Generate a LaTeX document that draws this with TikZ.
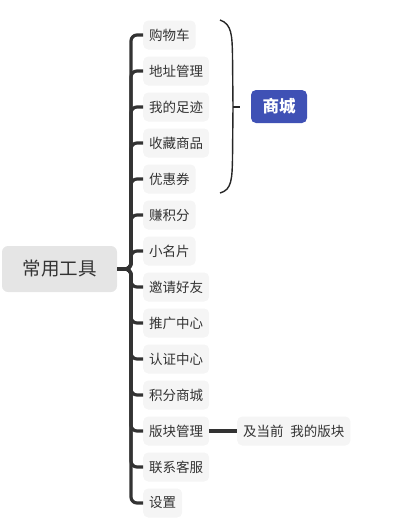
\documentclass[tikz,border=0pt]{standalone}
\usepackage{fontspec}
\setmainfont{Noto Sans CJK SC}
\usetikzlibrary{positioning}
\definecolor{txt}{HTML}{333333}
\definecolor{rootfill}{HTML}{E5E5E5}
\definecolor{leaffill}{HTML}{F5F5F5}
\definecolor{mallblue}{HTML}{3F51B5}
\tikzset{
	rootbox/.style={fill=rootfill,rounded corners=6pt,minimum width=115pt,minimum height=46pt,text=txt,font=\fontsize{18.5}{20}\selectfont},
	leaf/.style={fill=leaffill,rounded corners=5pt,inner xsep=6pt,inner ysep=0pt,minimum height=29pt,text=txt,font=\fontsize{13.5}{15}\selectfont},
	tagbox/.style={fill=mallblue,rounded corners=5pt,minimum width=56pt,minimum height=33pt,text=white,font=\fontsize{16.5}{18}\selectfont\bfseries},
	branch/.style={draw=txt,line width=3.2pt,rounded corners=6pt},
	bracket/.style={draw=black!85,line width=1.4pt}
}

\begin{document}
\begin{tikzpicture}[x=1pt,y=-1pt]
		\useasboundingbox (0,0) rectangle (408,530);
		\node[rootbox] (root) at (59.5,269) {常用工具};
		\coordinate (fork) at (131,269);
		\foreach \t [count=\i] in {购物车,地址管理,我的足迹,收藏商品,优惠券,赚积分,小名片,邀请好友,推广中心,认证中心,积分商城,版块管理,联系客服,设置}{
			\node[leaf,anchor=west] (c\i) at (143,{35+36*(\i-1)}) {\t};
			\draw[branch] (root.east) -- (fork) |- (c\i.west);
		}
		\node[leaf,anchor=west] (cur) at (237,431) {及当前\hspace{0.5em}我的版块};
		\draw[branch] (c12.east) -- (cur.west);

		% bracket round the first five
		\coordinate (bt) at (220,20);
		\coordinate (bb) at (220,193);
		\coordinate (tick) at (233,107);
		\draw[bracket] (bt) .. controls (232,24) and (232,36) .. (232.5,55) -- (tick) -- (232.5,159) .. controls (232,178) and (232,190) .. (bb);
		\draw[bracket] (tick) -- ++(7,0);
		\node[tagbox] (mall) at (279,106.5) {商城};
	\end{tikzpicture}
\end{document}
